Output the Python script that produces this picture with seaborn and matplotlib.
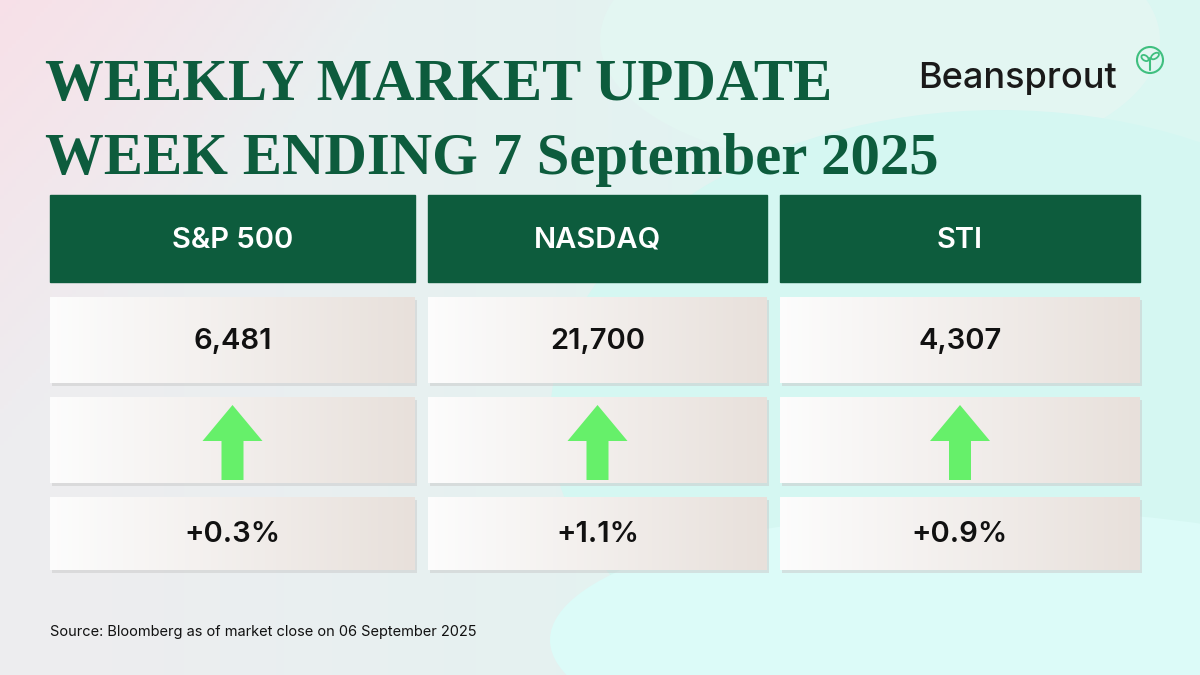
import numpy as np
import matplotlib
matplotlib.use("Agg")
import matplotlib.pyplot as plt
from matplotlib.patches import Rectangle, FancyArrow, Circle, Ellipse
import seaborn as sns

# ── data ─────────────────────────────────────────────
indices = ["S&P 500", "NASDAQ", "STI"]
levels = ["6,481", "21,700", "4,307"]
changes = [0.3, 1.1, 0.9]
week_label = "7 September 2025"
source = "Source: Bloomberg as of market close on 06 September 2025"

sns.set_theme(style="white", rc={"font.family": "Inter"})
DARK = "#0d5c3d"
ARROW = "#66f06a"

fig = plt.figure(figsize=(12, 6.75), dpi=100)
ax = fig.add_axes([0, 0, 1, 1])
ax.set_xlim(0, 1200)
ax.set_ylim(675, 0)
ax.axis("off")

# background gradient: pink top-left -> mint right
xx, yy = np.meshgrid(np.linspace(0, 1, 300), np.linspace(0, 1, 170))
pink = np.array([0.97, 0.88, 0.91])
grey = np.array([0.93, 0.93, 0.94])
mint = np.array([0.86, 0.97, 0.95])
w = np.clip(xx * 1.2 - 0.1, 0, 1)[..., None]
pk = np.clip(1 - (xx * 3 + yy * 1.5), 0, 1)[..., None]
img = grey * (1 - w) + mint * w
img = img * (1 - pk) + pink * pk
ax.imshow(img, extent=[0, 1200, 675, 0], aspect="auto", zorder=0)
ax.add_patch(Ellipse((1000, 420), 900, 620, color="#d5f7f2", zorder=0.5, lw=0))
ax.add_patch(Ellipse((880, 40), 560, 260, color="#e3f6f2", zorder=0.4, lw=0))
ax.add_patch(Ellipse((1000, 640), 900, 260, color="#dcfbf8", zorder=0.5, lw=0))

# title
ax.text(45, 100, "WEEKLY MARKET UPDATE", fontsize=42.3, fontweight="bold",
        family="Liberation Serif", color=DARK, zorder=3)
ax.text(45, 174, f"WEEK ENDING {week_label}", fontsize=42.3, fontweight="bold",
        family="Liberation Serif", color=DARK, zorder=3)

# logo
ax.text(918, 88, "Beansprout", fontsize=26, fontweight="medium", color="#1a1a1a", zorder=3)
ax.add_patch(Circle((1150, 60), 13, fill=False, ec="#3fbf7f", lw=1.5, zorder=3))
ax.plot([1150, 1150], [70, 58], color="#3fbf7f", lw=1.5, zorder=3)
ax.add_patch(Ellipse((1155, 56), 9, 5, angle=-35, fill=False, ec="#3fbf7f", lw=1.3, zorder=3))
ax.add_patch(Ellipse((1145, 58), 8, 5, angle=35, fill=False, ec="#3fbf7f", lw=1.3, zorder=3))

# table
cols = [(50, 415), (428, 767), (780, 1140)]
rows = [(297, 383), (397, 483), (497, 570)]
for i, (x0, x1) in enumerate(cols):
    cx = (x0 + x1) / 2
    ax.add_patch(Rectangle((x0, 195), x1 - x0, 87, color=DARK, zorder=2))
    ax.text(cx, 240, indices[i], ha="center", va="center", fontsize=21,
            color="white", fontweight="semibold", zorder=3)
    for (y0, y1) in rows:
        ax.add_patch(Rectangle((x0 + 2, y0 + 3), x1 - x0, y1 - y0,
                               color="#c9c9c9", alpha=0.5, zorder=1.5, lw=0))
        grad = np.linspace(0, 1, 100)[None, :, None]
        c = np.array([0.99, 0.99, 0.99]) * (1 - grad) + np.array([0.91, 0.88, 0.86]) * grad
        ax.imshow(c, extent=[x0, x1, y1, y0], aspect="auto", zorder=2)
    ax.text(cx, 341, levels[i], ha="center", va="center", fontsize=21,
            color="#111111", fontweight="semibold", zorder=3)
    up = changes[i] >= 0
    ax.add_patch(FancyArrow(cx, 480 if up else 405, 0, -75 if up else 75,
                            width=22, head_width=60, head_length=36,
                            length_includes_head=True, color=ARROW, lw=0, zorder=3))
    ax.text(cx, 534, f"{changes[i]:+.1f}%", ha="center", va="center", fontsize=21,
            color="#111111", fontweight="semibold", zorder=3)

ax.text(50, 632, source, fontsize=10.5, va="center", color="#111111", zorder=3)
ax.set_xlim(0, 1200)
ax.set_ylim(675, 0)

fig.savefig("out.png", dpi=100)
